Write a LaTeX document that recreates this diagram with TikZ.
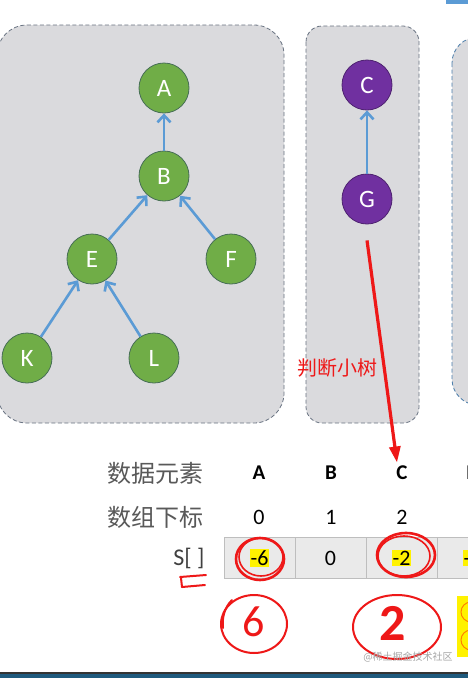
\documentclass[tikz,border=0pt]{standalone}
\usepackage{fontspec}
\setmainfont{Carlito}
\newfontfamily\cjk{Noto Sans CJK SC}
\usetikzlibrary{arrows.meta,positioning,shapes.geometric}
\definecolor{tgreen}{RGB}{112,173,71}
\definecolor{tgreenline}{RGB}{70,110,85}
\definecolor{tpurple}{RGB}{112,48,160}
\definecolor{tblue}{RGB}{91,155,213}
\definecolor{boxgray}{RGB}{218,218,221}
\definecolor{boxline}{RGB}{105,115,130}
\definecolor{inkred}{RGB}{238,24,24}
\definecolor{labgray}{RGB}{89,89,89}
\definecolor{cellgray}{RGB}{234,234,234}
\definecolor{cellline}{RGB}{190,190,190}
\definecolor{barblue}{RGB}{31,90,125}
\tikzset{
  treebox/.style={draw=boxline, fill=boxgray, dash pattern=on 4pt off 2.5pt, line width=0.8pt},
  gnode/.style={circle, minimum size=50pt, inner sep=0pt, fill=tgreen, draw=tgreenline, line width=0.8pt, text=white, font=\fontsize{25}{26}\selectfont},
  pnode/.style={gnode, fill=tpurple, draw=tpurple!70!black},
  tedge/.style={-{Straight Barb[length=7pt,width=13pt]}, line width=2.6pt, tblue},
  redarrow/.style={-{Triangle[length=16pt,width=11pt]}, inkred, line width=3.2pt},
  rowlab/.style={anchor=east, text=labgray, font=\cjk\fontsize{24}{26}\selectfont},
  collab/.style={font=\bfseries\fontsize{21}{22}\selectfont},
  idxlab/.style={font=\fontsize{22}{24}\selectfont},
  scell/.style={rectangle, draw=cellline, fill=cellgray, minimum width=71pt, minimum height=41pt, inner sep=0pt, font=\fontsize{22}{24}\selectfont},
  hl/.style={fill=yellow, inner sep=1pt, font=\fontsize{22}{24}\selectfont},
  ink/.style={inkred, line width=2.6pt, line cap=round}
}

\begin{document}
\begin{tikzpicture}[x=1pt,y=-1pt]
\useasboundingbox (0,0) rectangle (468,678);
\clip (0,0) rectangle (468,678);
\fill[white] (0,0) rectangle (468,678);
\fill[tblue] (446,0) rectangle (468,4);
\draw[treebox, rounded corners=30pt] (-3,25) rectangle (284,423);
\draw[treebox, rounded corners=16pt] (306,26) rectangle (419,423);
\draw[treebox, draw=tblue!80!black, rounded corners=26pt] (452,37) rectangle (530,405);

\node[gnode] (A) at (164,88) {A};
\node[gnode] (B) at (164,176) {B};
\node[gnode] (E) at (92,259) {E};
\node[gnode] (F) at (231,259) {F};
\node[gnode] (K) at (27,358) {K};
\node[gnode] (L) at (154,358) {L};
\node[pnode] (C) at (367,85) {C};
\node[pnode] (G) at (367,199) {G};
\draw[tedge] (B) -- (A);
\draw[tedge] (E) -- (B);
\draw[tedge] (F) -- (B);
\draw[tedge] (K) -- (E);
\draw[tedge] (L) -- (E);
\draw[tedge] (G) -- (C);

\node[text=inkred, font=\cjk\fontsize{20}{22}\selectfont] (hint) at (337,368) {判断小树};

\node[rowlab] (rowdata) at (207,473) {数据元素};
\node[rowlab] (rowidx) at (207,517) {数组下标};
\node[rowlab, font=\fontsize{24}{26}\selectfont, text=black!75] (rows) at (208,558) {S[ ]};
\node[collab] (colA) at (259,473) {A};
\node[collab] (colB) at (331,473) {B};
\node[collab] (colC) at (402,473) {C};
\node[collab] (colD) at (473,473) {D};
\node[idxlab] (idxA) at (259,517) {0};
\node[idxlab] (idxB) at (331,517) {1};
\node[idxlab] (idxC) at (402,517) {2};
\node[idxlab] (idxD) at (473,517) {3};
\node[scell] (sA) at (259.5,558) {};
\node[scell] (sB) at (330.5,558) {0};
\node[scell] (sC) at (401.5,558) {};
\node[scell] (sD) at (472.5,558) {};
\node[hl] (vA) at (sA) {-6};
\node[hl] (vC) at (sC) {-2};
\node[hl] (vD) at (sD) {-1};

\draw[redarrow] ([yshift=-16pt]G.south) -- ([xshift=-5pt]colC.north);

\draw[ink] (260,559) ellipse [x radius=24, y radius=21];
\draw[ink, line width=1.6pt] (261,557) ellipse [x radius=22, y radius=19];
\draw[ink] (406,555) ellipse [x radius=29, y radius=22];
\draw[ink, line width=1.6pt] (404,556) ellipse [x radius=26, y radius=20];
\draw[ink, line width=2pt] (180,577) -- (206,575);
\draw[ink, line width=2pt] (182,587) -- (205,585);
\draw[ink, line width=2pt] (181,578) -- (182,587);

\draw[ink, line width=2pt] (254,624) ellipse [x radius=33, y radius=29];
\draw[ink, line width=2pt] (232,600) .. controls (224,608) and (222,618) .. (223,628);
\node[text=inkred, font=\fontsize{44}{44}\selectfont] (six) at (254,622) {6};
\draw[ink, line width=2pt] (397,627) ellipse [x radius=44, y radius=32];
\node[text=inkred, font=\bfseries\fontsize{52}{52}\selectfont] (two) at (393,623) {2};

\fill[yellow] (457,596) rectangle (468,657);
\draw[orange, line width=1pt] (471,612) circle [radius=10];
\draw[orange, line width=1pt] (471,640) circle [radius=10];
\node[text=orange, font=\fontsize{14}{14}\selectfont] (n1) at (471,612) {1};
\node[text=orange, font=\fontsize{14}{14}\selectfont] (n2) at (471,640) {2};

\node[text=black!35, font=\cjk\fontsize{10}{10}\selectfont] (mark) at (408,657) {@稀土掘金技术社区};

\fill[black!80] (0,672) rectangle (468,673.5);
\fill[barblue] (0,673.5) rectangle (468,678);
\end{tikzpicture}
\end{document}
